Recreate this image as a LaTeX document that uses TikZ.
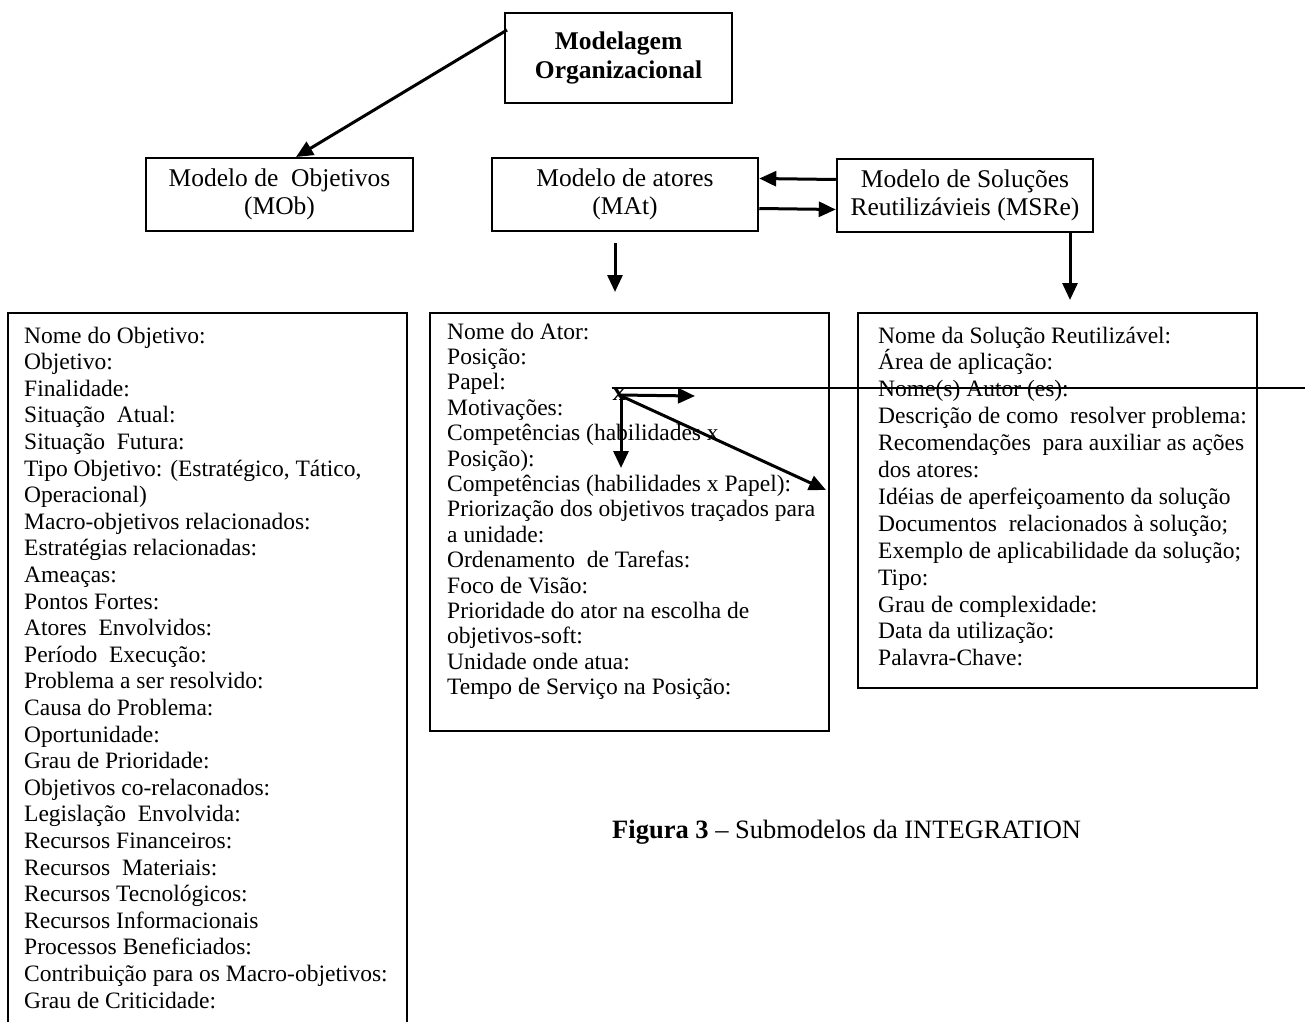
\documentclass[tikz,border=0pt]{standalone}
\usepackage{fontspec}
\setmainfont{Liberation Serif}
\usetikzlibrary{arrows.meta}

\tikzset{
	modelbox/.style={draw, line width=2.5pt, align=center, inner sep=0pt, font=\fontsize{25.5}{28.5}\selectfont},
	fieldbox/.style={draw, line width=2.5pt, inner sep=0pt},
	fieldtext/.style={anchor=base west, align=left, inner sep=0pt},
	link/.style={-{Triangle[length=17pt,width=15pt]}, line width=3pt},
}

\begin{document}
\begin{tikzpicture}[x=1pt, y=-1pt]
	\useasboundingbox (0,0) rectangle (1311,1022);

	%Models
	\node[modelbox, minimum width=227pt, minimum height=90pt, font=\fontsize{25.5}{28.5}\selectfont\bfseries] (org) at (618.5,58) {Modelagem\\Organizacional};
	\node[modelbox, minimum width=267pt, minimum height=73pt] (mob) at (279.5,194.5) {Modelo de~ Objetivos\\(MOb)};
	\node[modelbox, minimum width=266pt, minimum height=73pt] (mat) at (625,194.5) {Modelo de atores\\(MAt)};
	\node[modelbox, minimum width=256pt, minimum height=73pt] (msre) at (965,195.5) {Modelo de Soluções\\Reutilizávieis (MSRe)};
	\coordinate (orgout) at (507,30);
	\coordinate (mobin) at (296,157);
	\coordinate (matdownA) at (615,243);
	\coordinate (matdownB) at (615,292);
	\coordinate (msredown) at (1070,300);
	\draw[link] (orgout) -- (mobin);
	\draw[link] ([yshift=16pt]msre.west) -- ([yshift=16pt]mat.east);
	\draw[link] ([yshift=-14pt]mat.east) -- ([yshift=-14pt]msre.west);
	\draw[link] (matdownA) -- (matdownB);
	\draw[link] (msre.south -| msredown) -- (msredown);

	%Fields
	\node[fieldbox, minimum width=399pt, minimum height=727pt] (obfields) at (207.5,676.5) {};
	\node[fieldbox, minimum width=399pt, minimum height=418pt] (atfields) at (629.5,522) {};
	\node[fieldbox, minimum width=399pt, minimum height=375pt] (solfields) at (1057.5,500.5) {};

	\node[fieldtext, font=\fontsize{23.5}{26.6}\selectfont] (obtext) at (24,1008) {Nome do Objetivo:\\Objetivo:\\Finalidade:\\Situação~ Atual:\\Situação~ Futura:\\Tipo Objetivo: (Estratégico, Tático,\\Operacional)\\Macro-objetivos relacionados:\\Estratégias relacionadas:\\Ameaças:\\Pontos Fortes:\\Atores~ Envolvidos:\\Período~ Execução:\\Problema a ser resolvido:\\Causa do Problema:\\Oportunidade:\\Grau de Prioridade:\\Objetivos co-relaconados:\\Legislação~ Envolvida:\\Recursos Financeiros:\\Recursos~ Materiais:\\Recursos Tecnológicos:\\Recursos Informacionais\\Processos Beneficiados:\\Contribuição para os Macro-objetivos:\\Grau de Criticidade:};

	\node[fieldtext, font=\fontsize{23.5}{25.4}\selectfont] (attext) at (447,694.6) {Nome do Ator:\\Posição:\\Papel:\\Motivações:\\Competências (habilidades x\\Posição):\\Competências (habilidades x Papel):\\Priorização dos objetivos traçados para\\a unidade:\\Ordenamento~ de Tarefas:\\Foco de Visão:\\Prioridade do ator na escolha de\\objetivos-soft:\\Unidade onde atua:\\Tempo de Serviço na Posição:};

	\node[fieldtext, font=\fontsize{23.5}{26.9}\selectfont] (soltext) at (878,665.8) {Nome da Solução Reutilizável:\\Área de aplicação:\\Nome(s) Autor (es):\\Descrição de como~ resolver problema:\\Recomendações~ para auxiliar as ações\\dos atores:\\Idéias de aperfeiçoamento da solução\\Documentos~ relacionados à solução;\\Exemplo de aplicabilidade da solução;\\Tipo:\\Grau de complexidade:\\Data da utilização:\\Palavra-Chave:};

	%Junction
	\node[inner sep=0pt, font=\fontsize{26}{28}\selectfont\bfseries] (jct) at (619,395) {x};
	\coordinate (lineA) at (612,388);
	\coordinate (lineB) at (1305,388);
	\coordinate (jctright) at (695,396);
	\coordinate (jctdown) at (621,468);
	\coordinate (jctdiag) at (826,490);
	\draw[line width=1.3pt] (lineA) -- (lineB);
	\draw[link] (jct.center) -- (jctright);
	\draw[link] (jct.center -| jctdown) -- (jctdown);
	\draw[link] (jct.center) -- (jctdiag);

	%Caption
	\node[anchor=base west, inner sep=0pt, font=\fontsize{26.5}{28}\selectfont] (caption) at (612,838) {\textbf{Figura 3} – Submodelos da INTEGRATION};
\end{tikzpicture}
\end{document}
